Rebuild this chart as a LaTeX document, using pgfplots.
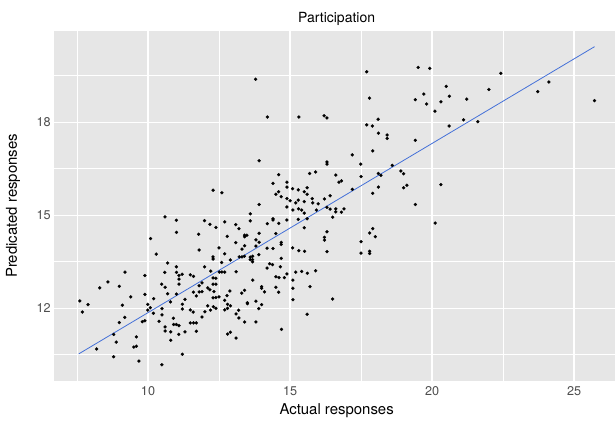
\documentclass[border=0pt]{standalone}
\usepackage{fontspec}
\setmainfont{TeX Gyre Heros}
\usepackage{pgfplots}
\usepackage{pgfplotstable}
\pgfplotsset{compat=1.18}
\definecolor{panelbg}{HTML}{E6E6E6}
\definecolor{ticklab}{HTML}{4D4D4D}
\definecolor{smoothc}{HTML}{4470D8}

\pgfplotstableread{
x y
10.29 13.75
10.69 13.46
11.00 13.34
9.19 13.17
10.59 13.16
11.00 13.16
9.89 13.06
11.09 13.06
11.09 12.94
8.59 12.85
10.48 12.78
11.09 12.78
8.99 12.71
8.30 12.66
10.60 12.68
10.69 12.47
11.00 12.46
9.89 12.45
9.39 12.37
10.20 12.31
7.60 12.24
10.79 12.21
7.89 12.12
9.10 12.10
9.99 12.13
10.08 12.02
10.49 11.99
9.99 11.94
7.69 11.88
10.19 11.84
10.49 11.79
9.18 11.71
10.89 11.68
9.89 11.60
9.80 11.57
8.99 11.54
10.39 11.58
10.60 11.40
10.90 11.48
11.00 11.48
11.09 11.44
10.60 11.27
10.80 11.24
8.79 11.16
11.08 11.16
9.59 11.08
8.88 10.91
10.80 10.97
9.59 10.78
9.50 10.75
8.19 10.69
8.79 10.44
9.68 10.30
10.49 10.18
10.60 14.95
11.00 14.84
11.00 14.45
10.09 14.25
11.78 14.39
11.99 14.83
12.18 14.71
11.80 13.88
12.29 13.66
12.29 13.59
12.70 13.76
13.21 13.66
13.31 13.66
13.39 13.68
13.60 13.65
13.68 13.68
13.60 13.57
13.68 13.57
13.90 13.73
14.69 13.61
13.68 13.50
12.90 13.56
12.59 13.48
11.99 13.34
14.28 13.44
14.38 13.41
14.19 13.30
14.66 13.34
12.21 13.20
12.51 13.17
12.60 13.17
12.70 13.17
13.10 13.18
11.20 13.10
11.49 13.08
11.60 13.03
12.29 12.98
12.39 12.97
14.50 13.02
14.61 12.99
14.80 12.99
14.89 13.11
13.69 12.91
12.29 12.78
12.39 12.78
11.90 12.82
11.80 12.73
12.10 12.66
12.18 12.60
12.32 12.54
14.00 12.70
14.00 12.65
14.50 12.68
14.10 12.53
14.60 12.52
13.40 12.58
13.30 12.49
12.88 12.56
11.60 12.52
11.80 12.53
11.90 12.54
11.70 12.40
11.30 12.29
12.29 12.34
12.39 12.35
12.50 12.37
12.78 12.41
12.70 12.26
13.50 12.18
13.50 12.15
13.80 12.23
14.00 12.12
11.21 12.13
12.80 12.13
12.90 12.08
12.10 12.08
12.30 12.05
12.39 12.00
12.20 11.94
12.70 11.95
12.80 12.00
13.90 11.99
11.21 11.98
11.49 11.95
11.59 11.88
12.00 11.89
13.19 11.94
13.10 11.82
13.20 11.69
13.40 11.56
13.80 11.56
11.90 11.72
11.49 11.53
11.60 11.53
11.70 11.53
11.70 11.26
11.30 11.24
14.70 11.32
12.80 11.17
12.90 11.23
13.10 11.04
11.21 10.52
15.31 13.86
15.51 13.84
16.30 13.83
17.50 13.78
17.80 13.84
17.80 13.77
15.20 13.17
15.41 13.19
15.61 13.13
15.90 13.21
15.10 12.91
15.10 12.65
15.70 12.70
15.10 12.28
16.50 12.30
15.60 11.81
13.91 16.76
14.60 16.31
15.69 16.35
15.90 16.40
14.40 16.03
14.89 16.07
14.89 15.91
15.09 15.86
15.29 15.82
15.60 15.89
15.50 15.76
15.60 15.68
12.29 15.81
12.60 15.73
14.60 15.76
14.50 15.68
14.69 15.60
14.89 15.54
15.00 15.47
15.20 15.40
15.29 15.49
15.50 15.44
15.78 15.54
15.80 15.40
15.99 15.37
13.91 15.35
14.89 15.27
15.10 15.17
15.30 15.21
15.41 15.17
15.50 15.07
15.93 15.17
13.60 15.05
12.39 14.61
12.70 14.79
13.09 14.70
13.20 14.57
13.60 14.82
14.40 14.89
14.40 14.85
14.60 14.74
14.20 14.73
14.89 14.85
15.29 14.87
15.60 14.89
15.50 14.60
12.79 14.32
13.40 14.36
13.48 14.36
13.40 14.31
13.91 14.42
13.91 14.13
14.50 14.41
14.69 14.13
14.69 14.06
13.09 14.12
13.40 14.02
13.80 14.21
13.80 14.01
14.19 13.94
14.40 13.93
15.09 13.95
12.50 13.95
13.31 13.91
18.11 17.65
18.42 17.59
18.42 17.48
19.41 17.42
17.91 17.08
17.19 16.95
16.30 16.72
16.30 16.65
17.49 16.65
18.60 16.61
18.90 16.43
19.00 16.34
16.61 16.30
18.11 16.35
18.20 16.29
17.50 16.25
16.72 16.07
16.81 16.11
19.11 15.97
19.00 15.89
18.11 15.91
17.19 15.84
17.91 15.71
16.41 15.63
16.21 15.53
16.30 15.26
16.41 15.20
16.61 15.21
16.61 15.11
16.81 15.10
16.90 15.21
19.41 15.35
16.50 14.94
16.30 14.47
16.21 14.29
16.21 14.20
17.91 14.57
17.80 14.43
18.00 14.31
17.50 14.15
19.51 19.77
19.92 19.74
22.42 19.58
20.50 19.16
19.71 18.91
19.41 18.73
19.81 18.59
20.61 18.84
20.31 18.66
21.22 18.75
22.00 19.06
23.72 18.99
24.11 19.30
25.72 18.70
20.10 18.36
20.60 17.88
21.11 18.08
21.61 18.02
20.31 15.99
20.11 14.75
17.70 19.63
13.79 19.39
17.80 18.78
14.20 18.17
15.31 18.17
16.20 18.21
16.30 18.14
17.70 17.92
17.90 17.88
18.10 18.10
}\pts

\begin{document}
\begin{tikzpicture}
\begin{axis}[
  scale only axis,
  width=420.75pt, height=262.3pt,
  xmin=6.69, xmax=26.44, ymin=9.665, ymax=20.945,
  axis background/.style={fill=panelbg},
  axis line style={draw=none},
  xtick={10,15,20,25}, ytick={12,15,18},
  minor xtick={7.5,12.5,17.5,22.5}, minor ytick={10.5,13.5,16.5,19.5},
  xmajorgrids, ymajorgrids, xminorgrids, yminorgrids,
  major grid style={white, line width=1.2pt},
  minor grid style={white, line width=0.6pt},
  major tick length=0pt, minor tick length=0pt,
  /pgf/number format/assume math mode=true,
  xticklabel style={font=\fontsize{9.5}{11}\selectfont, text=ticklab, anchor=north, inner sep=0pt, yshift=-4pt},
  yticklabel style={font=\fontsize{9.5}{11}\selectfont, text=ticklab, anchor=east, inner sep=0pt, xshift=-2.3pt},
  clip=true,
]
\addplot[only marks, mark=*, mark size=1.15pt, mark options={draw=black, fill=black, line width=0.2pt}] table[x=x, y=y] {\pts};
\addplot[smoothc, line width=0.6pt] coordinates {(7.56,10.53) (25.72,20.44)};
\coordinate (T) at (axis cs:16.64,20.945);
\coordinate (B) at (axis cs:16.64,9.665);
\coordinate (L) at (axis cs:6.69,15.305);
\coordinate (bl) at (rel axis cs:0,0);
\coordinate (tr) at (rel axis cs:1,1);
\end{axis}
\node[anchor=base, inner sep=0pt, font=\fontsize{10.5}{12}\selectfont] at ([yshift=6pt]T) {Participation};
\node[anchor=base, inner sep=0pt, font=\fontsize{11.2}{13}\selectfont] at ([yshift=-25pt]B) {Actual responses};
\node[anchor=base, rotate=90, inner sep=0pt, font=\fontsize{11.2}{13}\selectfont] at ([xshift=-27.8pt]L) {Predicated responses};
\pgfresetboundingbox
\path[use as bounding box] ([shift={(-40.5pt,-29.475pt)}]bl) rectangle ([shift={(0pt,23.25pt)}]tr);
\end{tikzpicture}
\end{document}
